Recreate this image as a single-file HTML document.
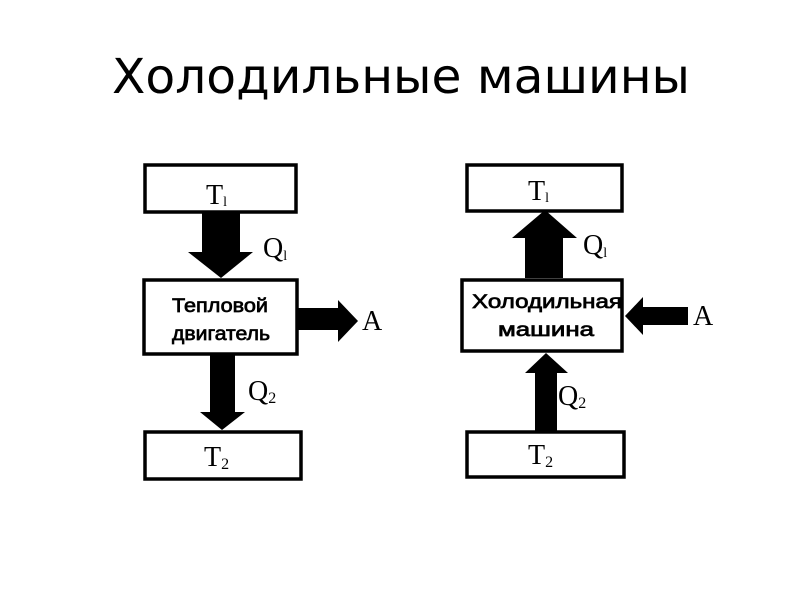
<!DOCTYPE html>
<html><head><meta charset="utf-8"><style>html,body{margin:0;padding:0;background:#fff;width:800px;height:600px;overflow:hidden}</style></head>
<body>
<svg width="800" height="600" viewBox="0 0 800 600" xmlns="http://www.w3.org/2000/svg">
<rect width="800" height="600" fill="#fff"/>
<text x="112" y="93" font-family="DejaVu Sans, sans-serif" font-size="48" textLength="578" lengthAdjust="spacingAndGlyphs" fill="#000">Холодильные машины</text>
<g fill="none" stroke="#000" stroke-width="3.5">
<rect x="145" y="165" width="151" height="47"/>
<rect x="144" y="280" width="153" height="74"/>
<rect x="145" y="432" width="156" height="47"/>
<rect x="467" y="165" width="155" height="46"/>
<rect x="462" y="280" width="160" height="71"/>
<rect x="467" y="432" width="157" height="45"/>
</g>
<g fill="#000">
<polygon points="202,213 240,213 240,252 253,252 221,278 188,252 202,252"/>
<polygon points="298,308 338,308 338,300 358,321 338,342 338,330 298,330"/>
<polygon points="210,355 235,355 235,412 245,412 222,430 200,412 210,412"/>
<polygon points="545,210 577,238 563,238 563,278 525,278 525,238 512,238"/>
<polygon points="625,316 643,297 643,307 688,307 688,325 643,325 643,335"/>
<polygon points="546,353 568,373 557,373 557,431 535,431 535,373 525,373"/>
</g>
<g font-family="Liberation Serif, serif" fill="#000">
<text x="206" y="204" font-size="28">T<tspan font-size="14" dy="2">l</tspan></text>
<text x="204" y="466" font-size="28">T<tspan font-size="16" dy="3">2</tspan></text>
<text x="263" y="257" font-size="28">Q<tspan font-size="14" dy="3">l</tspan></text>
<text x="248" y="400" font-size="28">Q<tspan font-size="16" dy="3">2</tspan></text>
<text x="362" y="330" font-size="28">A</text>
<text x="528" y="200" font-size="28">T<tspan font-size="14" dy="2">l</tspan></text>
<text x="528" y="464" font-size="28">T<tspan font-size="16" dy="3">2</tspan></text>
<text x="583" y="254" font-size="28">Q<tspan font-size="14" dy="3">l</tspan></text>
<text x="558" y="405" font-size="28">Q<tspan font-size="16" dy="3">2</tspan></text>
<text x="693" y="325" font-size="28">A</text>
</g>
<g font-family="Liberation Sans, sans-serif" font-size="19" fill="#000" stroke="#000" stroke-width="0.7">
<text x="172" y="312" textLength="96" lengthAdjust="spacingAndGlyphs">Тепловой</text>
<text x="172" y="340" textLength="98" lengthAdjust="spacingAndGlyphs">двигатель</text>
<text x="472" y="308" textLength="150" lengthAdjust="spacingAndGlyphs">Холодильная</text>
<text x="498" y="336" textLength="96" lengthAdjust="spacingAndGlyphs">машина</text>
</g>
</svg>
</body></html>
